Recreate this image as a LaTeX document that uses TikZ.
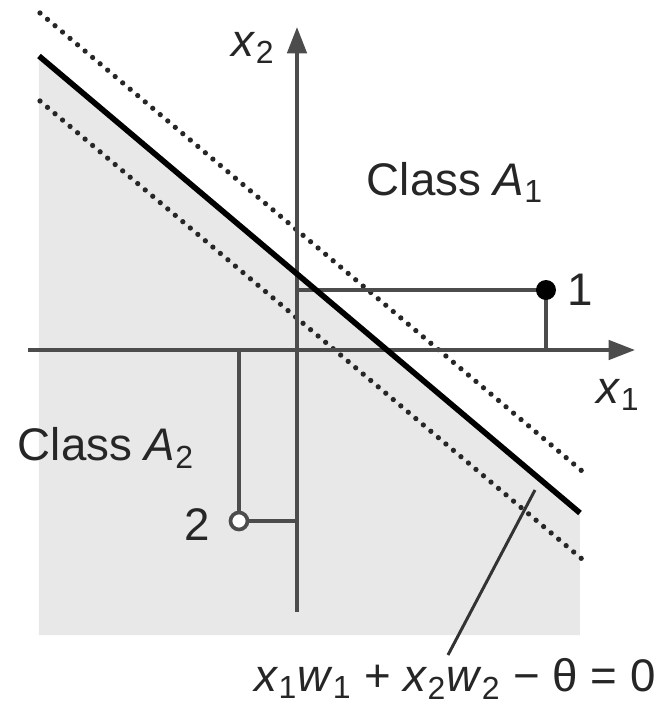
\documentclass[tikz,border=0pt]{standalone}
\usepackage{fontspec}
\setmainfont{Liberation Sans}
\usetikzlibrary{arrows.meta}

\begin{document}
\begin{tikzpicture}[scale=1.0, >={Triangle[length=15pt,width=11pt]},
    axis/.style={line width=2.1pt, black!70},
    proj/.style={line width=2.1pt, black!70},
    margin/.style={line width=3pt, black!85, line cap=round, dash pattern=on 0pt off 5.6pt},
    lbl/.style={font=\fontsize{26}{30}\selectfont, text=black!85, inner sep=0pt}]
    \useasboundingbox (-5.94,-7.1) rectangle (7.3,7.0);

    \fill[black!9] (-5.16,5.88) -- (5.66,-3.26) -- (5.66,-5.7) -- (-5.16,-5.7) -- cycle;

    \draw[margin] (-5.14,6.74) -- (5.70,-2.42);
    \draw[margin] (-5.14,4.98) -- (5.70,-4.18);

    \coordinate (o) at (0,0);
    \draw[->, axis] (-5.38,0) -- (6.76,0);
    \draw[->, axis] (0,-5.24) -- (0,6.46);

    \coordinate (p1) at (4.98,1.20);
    \coordinate (p2) at (-1.16,-3.42);
    \draw[proj] (o |- p1) -- (p1) -- (p1 |- o);
    \draw[proj] (o |- p2) -- (p2) -- (p2 |- o);
    \fill[black] (p1) circle (0.2);
    \draw[proj, fill=white] (p2) circle (0.17);

    \draw[line width=3.2pt] (-5.16,5.88) -- (5.66,-3.26);

    \coordinate (tip) at (4.76,-2.80);
    \coordinate (tail) at (3.02,-6.10);
    \draw[line width=1.7pt, black!80] (tip) -- (tail);

    \node[lbl] (lx2) at (-0.88,6.04) {\textit{x}\textsubscript{2}};
    \node[lbl] (lx1) at (6.42,-0.90) {\textit{x}\textsubscript{1}};
    \node[lbl] (ca1) at (3.16,3.36) {Class \textit{A}\textsubscript{1}};
    \node[lbl] (ca2) at (-3.82,-1.96) {Class \textit{A}\textsubscript{2}};
    \node[lbl] (l1) at (5.66,1.20) {1};
    \node[lbl] (l2) at (-2.0,-3.50) {2};
    \node[lbl] (eq) at (3.16,-6.58)
        {\textit{x}\textsubscript{1}\textit{w}\textsubscript{1} + \textit{x}\textsubscript{2}\textit{w}\textsubscript{2} − θ = 0};
\end{tikzpicture}
\end{document}
